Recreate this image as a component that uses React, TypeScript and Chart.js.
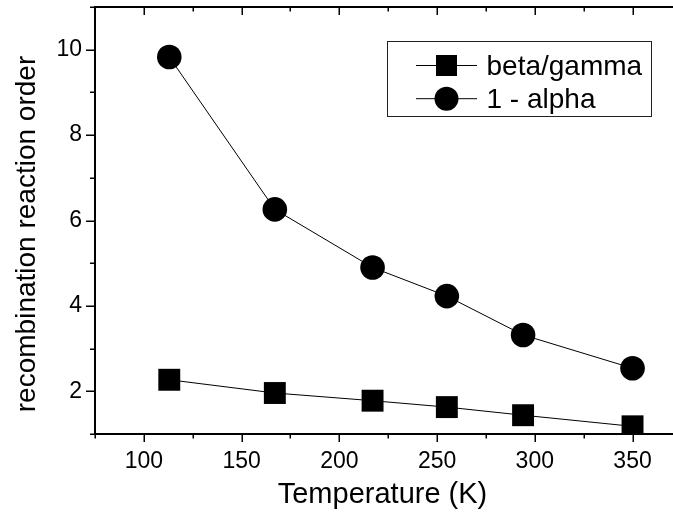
import React, { useEffect, useRef } from 'react';
import { Chart, registerables } from 'chart.js';

Chart.register(...registerables);

const temperatures = [113, 167, 217, 255, 294, 350];
const betaGamma = [2.27, 1.96, 1.78, 1.63, 1.44, 1.18];
const oneMinusAlpha = [9.83, 6.26, 4.9, 4.23, 3.32, 2.54];
const seriesNames = ['beta/gamma', '1 - alpha'];
const xMajorTicks = [100, 150, 200, 250, 300, 350];
const xMinorTicks = [75, 125, 175, 225, 275, 325];
const yMajorTicks = [2, 4, 6, 8, 10];
const yMinorTicks = [1, 3, 5, 7, 9, 11];
const xTitle = 'Temperature (K)';
const yTitle = 'recombination reaction order';

const FONT = "'Liberation Sans', Arial, sans-serif";

const originPlugin = {
  id: 'originAxes',
  afterDatasetsDraw(chart: any) {
    const { ctx, chartArea: ca, scales } = chart;
    const xs = scales.x;
    const ys = scales.y;
    ctx.save();
    ctx.strokeStyle = '#000';
    ctx.lineCap = 'butt';
    // axis lines
    ctx.lineWidth = 2;
    ctx.beginPath();
    ctx.moveTo(ca.left, ca.top);
    ctx.lineTo(ca.right, ca.top);
    ctx.moveTo(ca.left, ca.top - 1);
    ctx.lineTo(ca.left, ca.bottom + 1);
    ctx.moveTo(ca.left - 1, ca.bottom);
    ctx.lineTo(ca.right, ca.bottom);
    ctx.stroke();
    // ticks
    ctx.lineWidth = 1.5;
    ctx.beginPath();
    const xt = (vals: number[], len: number) => {
      vals.forEach((v) => {
        const px = Math.round(xs.getPixelForValue(v)) + 0.25;
        ctx.moveTo(px, ca.bottom);
        ctx.lineTo(px, ca.bottom + len);
        ctx.moveTo(px, ca.top);
        ctx.lineTo(px, ca.top + len);
      });
    };
    xt(xMajorTicks, 8);
    xt(xMinorTicks, 4.5);
    const yt = (vals: number[], len: number) => {
      vals.forEach((v) => {
        const py = Math.round(ys.getPixelForValue(v)) + 0.25;
        ctx.moveTo(ca.left, py);
        ctx.lineTo(ca.left - len, py);
      });
    };
    yt(yMajorTicks, 9);
    yt(yMinorTicks, 5);
    ctx.stroke();

    // legend
    const bx = 387, by = 41, bw = 264, bh = 75;
    ctx.lineWidth = 1;
    ctx.strokeStyle = '#222';
    ctx.strokeRect(bx + 0.5, by + 0.5, bw, bh);
    const rows = [65.5, 98.7];
    chart.data.datasets.forEach((ds: any, i: number) => {
      const cy = rows[i];
      ctx.strokeStyle = '#000';
      ctx.lineWidth = 1;
      ctx.beginPath();
      ctx.moveTo(416, cy);
      ctx.lineTo(477, cy);
      ctx.stroke();
      ctx.fillStyle = '#000';
      if (ds.pointStyle === 'rect') {
        ctx.fillRect(446.5 - 10.5, cy - 10.5, 21, 21);
      } else {
        ctx.beginPath();
        ctx.arc(446.5, cy, 12, 0, Math.PI * 2);
        ctx.fill();
      }
      ctx.font = `28px ${FONT}`;
      ctx.textAlign = 'left';
      ctx.textBaseline = 'alphabetic';
      ctx.fillText(ds.label, 486.5, cy + 9.5);
    });

    // titles
    ctx.fillStyle = '#000';
    ctx.font = `29px ${FONT}`;
    ctx.textAlign = 'center';
    ctx.textBaseline = 'alphabetic';
    ctx.fillText(xTitle, 382.5, 503);
    ctx.save();
    ctx.translate(35, 234);
    ctx.rotate(-Math.PI / 2);
    ctx.font = `28px ${FONT}`;
    ctx.fillText(yTitle, 0, 0);
    ctx.restore();
    ctx.restore();
  },
};

export default function App() {
  const ref = useRef<HTMLCanvasElement | null>(null);
  useEffect(() => {
    if (!ref.current) return;
    const chart = new Chart(ref.current, {
      type: 'line',
      data: {
        datasets: [
          {
            label: seriesNames[0],
            data: temperatures.map((t, i) => ({ x: t, y: betaGamma[i] })),
            borderColor: '#000',
            borderWidth: 1,
            backgroundColor: '#000',
            pointStyle: 'rect',
            pointRadius: 15.5,
            pointBorderWidth: 0,
            pointBackgroundColor: '#000',
            tension: 0,
          },
          {
            label: seriesNames[1],
            data: temperatures.map((t, i) => ({ x: t, y: oneMinusAlpha[i] })),
            borderColor: '#000',
            borderWidth: 1,
            backgroundColor: '#000',
            pointStyle: 'circle',
            pointRadius: 12.3,
            pointBorderWidth: 0,
            pointBackgroundColor: '#000',
            tension: 0,
          },
        ],
      },
      options: {
        responsive: false,
        animation: false,
        devicePixelRatio: 1,
        layout: { autoPadding: false, padding: { top: 7, right: 0, left: 0, bottom: 0 } },
        plugins: { legend: { display: false }, tooltip: { enabled: false } },
        scales: {
          x: {
            type: 'linear',
            min: 75,
            max: 370.7,
            grid: { display: false, drawTicks: true, tickLength: 8 },
            border: { display: false },
            ticks: {
              stepSize: 25,
              includeBounds: false,
              autoSkip: false,
              maxRotation: 0,
              padding: 6,
              color: '#000',
              font: { family: FONT, size: 23 },
              callback: (v: any) => (xMajorTicks.includes(Number(v)) ? String(v) : ''),
            },
            afterFit: (s: any) => {
              s.height = 88;
              s.paddingLeft = 0;
              s.paddingRight = 0;
              s.paddingTop = 0;
              s.paddingBottom = 0;
            },
          },
          y: {
            type: 'linear',
            min: 1,
            max: 11,
            grid: { display: false, drawTicks: true, tickLength: 10 },
            border: { display: false },
            ticks: {
              stepSize: 1,
              includeBounds: false,
              autoSkip: false,
              padding: 3,
              color: '#000',
              font: { family: FONT, size: 23 },
              callback: (v: any) => (yMajorTicks.includes(Number(v)) ? String(v) : ''),
            },
            afterFit: (s: any) => {
              s.width = 95;
              s.paddingLeft = 0;
              s.paddingRight = 0;
              s.paddingTop = 0;
              s.paddingBottom = 0;
            },
          },
        },
      },
      plugins: [originPlugin],
    } as any);
    return () => chart.destroy();
  }, []);
  return (
    <div style={{ position: 'fixed', left: 0, top: 0, width: 673, height: 522, background: '#fff' }}>
      <canvas ref={ref} width={673} height={522} style={{ width: 673, height: 522 }} />
    </div>
  );
}
